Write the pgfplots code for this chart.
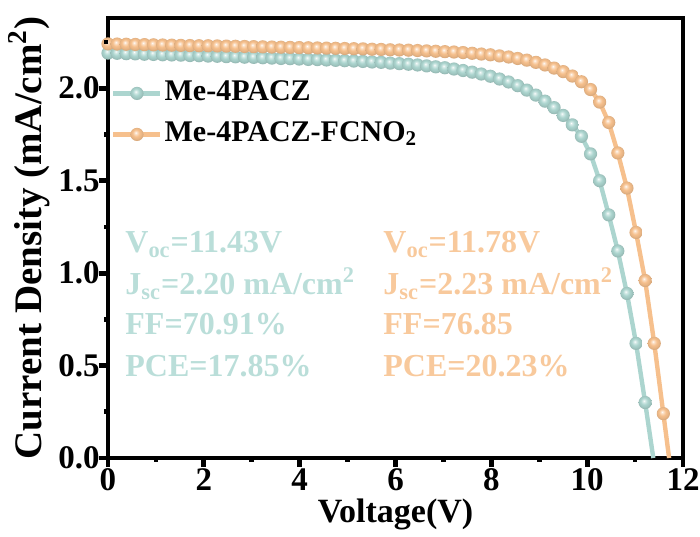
\documentclass[border=0pt]{standalone}
\usepackage{pgfplots}
\pgfplotsset{compat=1.18}
\usepackage{pgfplotstable}
\usepackage{fontspec}
\setmainfont{Liberation Serif}
\definecolor{tealc}{RGB}{172,213,207}
\definecolor{orangec}{RGB}{246,192,141}
\definecolor{tealt}{RGB}{186,222,217}
\definecolor{oranget}{RGB}{248,201,156}

\pgfdeclareradialshading{tealball}{\pgfqpoint{-5bp}{7bp}}{color(0bp)=(white); color(4bp)=(tealc!45!white); color(13bp)=(tealc); color(22bp)=(tealc!92!black); color(25bp)=(tealc!87!black); color(50bp)=(tealc!87!black)}
\pgfdeclareradialshading{orangeball}{\pgfqpoint{-5bp}{7bp}}{color(0bp)=(white); color(4bp)=(orangec!45!white); color(13bp)=(orangec); color(22bp)=(orangec!93!black); color(25bp)=(orangec!88!black); color(50bp)=(orangec!88!black)}
\pgfdeclareplotmark{tball}{\pgfpathcircle{\pgfpointorigin}{\pgfplotmarksize}\pgfshadepath{tealball}{0}\pgfusepath{}}
\pgfdeclareplotmark{oball}{\pgfpathcircle{\pgfpointorigin}{\pgfplotmarksize}\pgfshadepath{orangeball}{0}\pgfusepath{}}

\pgfplotstableread{
V J
0.00 2.190
0.19 2.189
0.38 2.187
0.57 2.186
0.76 2.184
0.95 2.183
1.14 2.181
1.33 2.180
1.52 2.179
1.71 2.177
1.90 2.176
2.09 2.174
2.28 2.173
2.47 2.171
2.66 2.170
2.85 2.168
3.04 2.167
3.23 2.165
3.42 2.163
3.61 2.161
3.80 2.160
3.99 2.158
4.18 2.156
4.37 2.155
4.56 2.153
4.75 2.151
4.94 2.149
5.13 2.147
5.32 2.145
5.51 2.142
5.70 2.140
5.89 2.136
6.08 2.133
6.27 2.130
6.46 2.126
6.65 2.121
6.84 2.116
7.03 2.111
7.22 2.104
7.41 2.096
7.60 2.087
7.79 2.077
7.98 2.065
8.17 2.050
8.36 2.034
8.55 2.014
8.74 1.990
8.93 1.963
9.12 1.930
9.31 1.895
9.50 1.853
9.69 1.802
9.88 1.740
10.07 1.645
10.26 1.500
10.45 1.315
10.64 1.120
10.83 0.890
11.02 0.620
11.21 0.300
11.38 0.000
}\tealdata

\pgfplotstableread{
V J
0.00 2.240
0.19 2.239
0.38 2.238
0.57 2.237
0.76 2.236
0.95 2.235
1.14 2.234
1.33 2.233
1.52 2.232
1.71 2.231
1.90 2.230
2.09 2.230
2.28 2.229
2.47 2.228
2.66 2.227
2.85 2.226
3.04 2.225
3.23 2.224
3.42 2.223
3.61 2.222
3.80 2.221
3.99 2.220
4.18 2.219
4.37 2.218
4.56 2.217
4.75 2.216
4.94 2.215
5.13 2.214
5.32 2.213
5.51 2.211
5.70 2.210
5.89 2.208
6.08 2.207
6.27 2.206
6.46 2.204
6.65 2.202
6.84 2.200
7.03 2.198
7.22 2.196
7.41 2.193
7.60 2.189
7.79 2.185
7.98 2.181
8.17 2.175
8.36 2.169
8.55 2.161
8.74 2.152
8.93 2.140
9.12 2.126
9.31 2.109
9.50 2.090
9.69 2.066
9.88 2.035
10.07 1.993
10.26 1.925
10.45 1.815
10.64 1.650
10.83 1.460
11.02 1.220
11.21 0.960
11.40 0.620
11.59 0.240
11.71 0.000
}\orangedata

\begin{document}
\begin{tikzpicture}
\begin{axis}[
  at={(0,0)}, anchor=south west,
  scale only axis, width=287.5pt, height=220pt,
  xmin=0, xmax=12, ymin=0, ymax=2.38,
  xtick={0,2,...,12}, ytick={0,0.5,...,2.0},
  xtick pos=bottom, ytick pos=left,
  tickwidth=0pt, subtickwidth=0pt,
  major tick style={draw=none},
  axis line style={line width=2pt},
  yticklabel style={/pgf/number format/fixed, /pgf/number format/fixed zerofill, /pgf/number format/precision=1, /pgf/number format/assume math mode=true, inner sep=1pt, xshift=-3pt},
  xticklabel style={/pgf/number format/assume math mode=true, inner sep=0.5pt, yshift=-4.5pt},
  ticklabel style={font=\fontsize{16.5}{16.5}\selectfont\bfseries},
  xlabel={Voltage(V)},
  ylabel={Current Density (mA/cm\textsuperscript{2})},
  xlabel style={font=\fontsize{17}{17}\selectfont\bfseries, inner sep=0pt, at={(axis description cs:0.5,-0.146)}, anchor=base},
  ylabel style={font=\fontsize{19.5}{19.5}\selectfont\bfseries, inner sep=0pt, at={(axis description cs:-0.1148,0.5)}, anchor=base, rotate=0},
  legend style={draw=none, fill=none, inner sep=0pt, at={(axis description cs:0.005,0.8636)}, anchor=north west,
    font=\fontsize{15}{15}\selectfont\bfseries, row sep=5.5pt,
    nodes={inner sep=1pt, text height=10pt, text depth=3pt}},
  legend cell align=left,
  legend image code/.code={\draw[mark repeat=2, mark phase=2, #1] plot coordinates {(0pt,0pt) (11.75pt,0pt) (23.5pt,0pt)};},
  /tikz/every even column/.append style={column sep=10pt},
]
\addlegendimage{tealc, line width=2.2pt, mark=tball, mark size=3.3pt}
\addlegendentry{Me-4PACZ}
\addlegendimage{orangec, line width=2.2pt, mark=oball, mark size=3.3pt}
\addlegendentry{Me-4PACZ-FCNO\textsubscript{2}}

\addplot[tealc, line width=2.2pt, no markers, forget plot] table[x=V, y=J] {\tealdata};
\addplot[only marks, mark=tball, mark size=3.3pt, restrict y to domain=0.01:3, forget plot] table[x=V, y=J] {\tealdata};
\addplot[orangec, line width=2.2pt, no markers, forget plot] table[x=V, y=J] {\orangedata};
\addplot[only marks, mark=oball, mark size=3.3pt, restrict y to domain=0.01:3, forget plot] table[x=V, y=J] {\orangedata};

\begin{scope}[every node/.style={anchor=base west, inner sep=0pt, font=\fontsize{16}{16}\selectfont\bfseries}]
\node[text=tealt] at (axis cs:0.355,1.111) {V\textsubscript{oc}=11.43V};
\node[text=tealt] at (axis cs:0.355,0.883) {J\textsubscript{sc}=2.20 mA/cm\textsuperscript{2}};
\node[text=tealt] at (axis cs:0.355,0.667) {FF=70.91\%};
\node[text=tealt] at (axis cs:0.355,0.439) {PCE=17.85\%};
\node[text=oranget] at (axis cs:5.74,1.111) {V\textsubscript{oc}=11.78V};
\node[text=oranget] at (axis cs:5.74,0.883) {J\textsubscript{sc}=2.23 mA/cm\textsuperscript{2}};
\node[text=oranget] at (axis cs:5.74,0.667) {FF=76.85};
\node[text=oranget] at (axis cs:5.74,0.439) {PCE=20.23\%};
\end{scope}
\end{axis}
% axis ticks (outward), drawn on the axis frame geometry
\foreach \x in {0,2,...,12} \draw[line width=2.4pt, black] ({\x*23.958333pt},0pt) -- ++(0pt,-4.5pt);
\foreach \x in {1,3,...,11} \draw[line width=2.4pt, black] ({\x*23.958333pt},0pt) -- ++(0pt,-2.2pt);
\foreach \y in {0,0.5,...,2.0} \draw[line width=2.4pt, black] (0pt,{\y*92.436975pt}) -- ++(-4.5pt,0pt);
\foreach \y in {0.25,0.75,...,2.25} \draw[line width=2.4pt, black] (0pt,{\y*92.436975pt}) -- ++(-2.2pt,0pt);
\pgfresetboundingbox
\path[use as bounding box] (-54pt,-39pt) rectangle (296pt,229pt);
\end{tikzpicture}
\end{document}
